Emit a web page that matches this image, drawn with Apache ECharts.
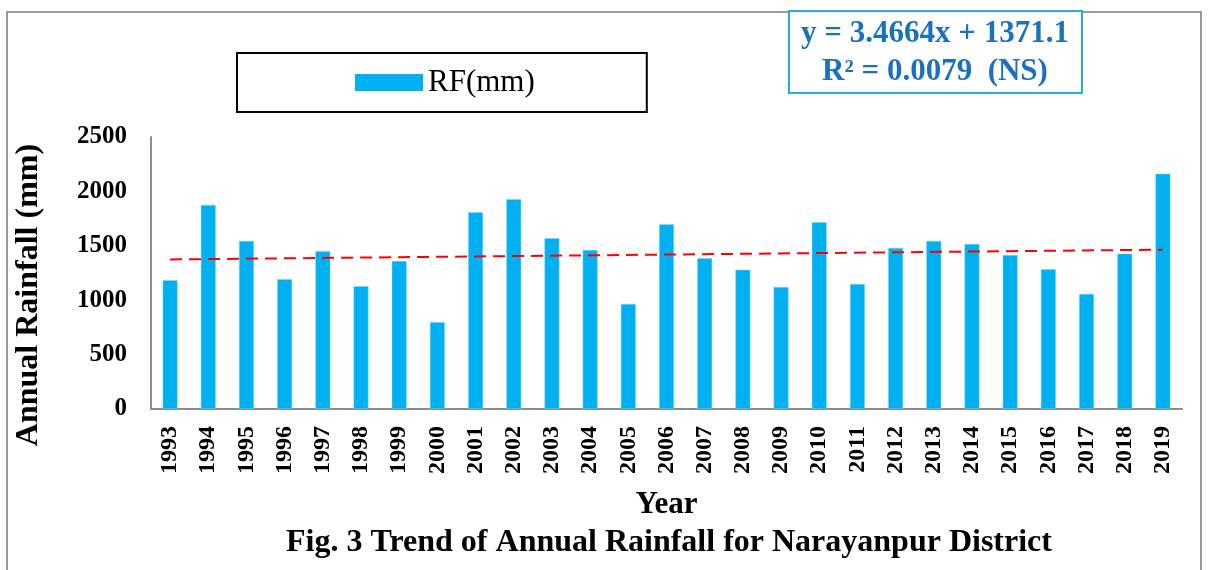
<!DOCTYPE html>
<html>
<head>
<meta charset="utf-8">
<script src="https://cdn.jsdelivr.net/npm/echarts@6/dist/echarts.min.js"></script>
<style>html,body{margin:0;padding:0;background:#fff;}#c{width:1210px;height:570px;}</style>
</head>
<body>
<div id="c"></div>
<script>
const years = ['1993','1994','1995','1996','1997','1998','1999','2000','2001','2002','2003','2004','2005','2006','2007','2008','2009','2010','2011','2012','2013','2014','2015','2016','2017','2018','2019'];
const rainfall = [1183,1875,1544,1192,1449,1128,1360,797,1808,1927,1569,1461,965,1697,1385,1280,1121,1716,1149,1480,1544,1516,1415,1284,1057,1427,2162];
// trend line end points (y = 3.4664x + 1371.1 at first and last year)
const trendEnds = [1374.6, 1464.7];
const yTicks = [0, 500, 1000, 1500, 2000, 2500];
const yAxisTitle = 'Annual Rainfall (mm)';
const equationLines = ['y = 3.4664x + 1371.1', 'R\u00B2 = 0.0079  (NS)'];
const caption = 'Fig. 3 Trend of Annual Rainfall for Narayanpur District';

const trendData = years.map((y, i) => i === 0 ? trendEnds[0] : (i === years.length - 1 ? trendEnds[1] : null));
const F = '"Liberation Serif","Times New Roman",serif';

const chart = echarts.init(document.getElementById('c'));
chart.setOption({
  animation: false,
  backgroundColor: '#fff',
  grid: {left: 151, right: 28, top: 137, bottom: 161},
  legend: {
    data: [{name: 'RF(mm)', icon: 'rect'}],
    left: 237, top: 53,
    itemWidth: 68, itemHeight: 17, itemGap: 10,
    itemStyle: {borderWidth: 0},
    borderColor: '#000', borderWidth: 2,
    padding: [14, 112, 14, 118],
    textStyle: {fontFamily: F, fontSize: 31, color: '#000'},
    selectedMode: false
  },
  xAxis: {
    type: 'category',
    data: years,
    name: 'Year',
    nameLocation: 'middle',
    nameGap: 80,
    nameTextStyle: {fontFamily: F, fontSize: 31, fontWeight: 'bold', color: '#000', verticalAlign: 'top'},
    axisLine: {lineStyle: {color: '#8c8c8c', width: 2}},
    axisTick: {show: false},
    axisLabel: {rotate: 90, margin: 17, fontFamily: F, fontSize: 24, fontWeight: 'bold', color: '#000', interval: 0}
  },
  yAxis: {
    type: 'value',
    min: yTicks[0], max: yTicks[yTicks.length - 1], interval: 500,
    axisLine: {show: true, lineStyle: {color: '#8c8c8c', width: 2}},
    axisTick: {show: false},
    splitLine: {show: false},
    axisLabel: {margin: 24, fontFamily: F, fontSize: 25, fontWeight: 'bold', color: '#000', formatter: v => String(v)}
  },
  series: [
    {
      name: 'RF(mm)', type: 'bar', data: rainfall, barWidth: '39%',
      itemStyle: {color: '#00b0f0', borderColor: '#7fd6f6', borderWidth: 0.5}
    },
    {
      name: 'Trend', type: 'line', data: trendData, connectNulls: true, symbol: 'none',
      lineStyle: {color: '#ff0000', width: 2, type: [12, 7]}, z: 5
    }
  ],
  graphic: [
    {type: 'rect', shape: {x: 7, y: 12, width: 1194, height: 600}, style: {fill: 'none', stroke: '#9a9a9a', lineWidth: 2}, silent: true, z: -1},
    {type: 'text', x: 29, y: 295, rotation: Math.PI / 2, style: {text: yAxisTitle, fontFamily: F, fontSize: 32, fontWeight: 'bold', fill: '#000', align: 'center', verticalAlign: 'middle'}, z: 11},
    {type: 'rect', shape: {x: 789, y: 11, width: 293, height: 82}, style: {fill: '#fff', stroke: '#2aa8e0', lineWidth: 2}, z: 10},
    {type: 'text', x: 935, y: 34, style: {text: equationLines[0], fontFamily: F, fontSize: 31, fontWeight: 'bold', fill: '#1c70c0', align: 'center', verticalAlign: 'middle'}, z: 11},
    {type: 'text', x: 935, y: 72, style: {text: equationLines[1], fontFamily: F, fontSize: 31, fontWeight: 'bold', fill: '#1c70c0', align: 'center', verticalAlign: 'middle'}, z: 11},
    {type: 'text', x: 669, y: 543, style: {text: caption, fontFamily: F, fontSize: 32, fontWeight: 'bold', fill: '#000', align: 'center', verticalAlign: 'middle'}, z: 11}
  ]
});
</script>
</body>
</html>
